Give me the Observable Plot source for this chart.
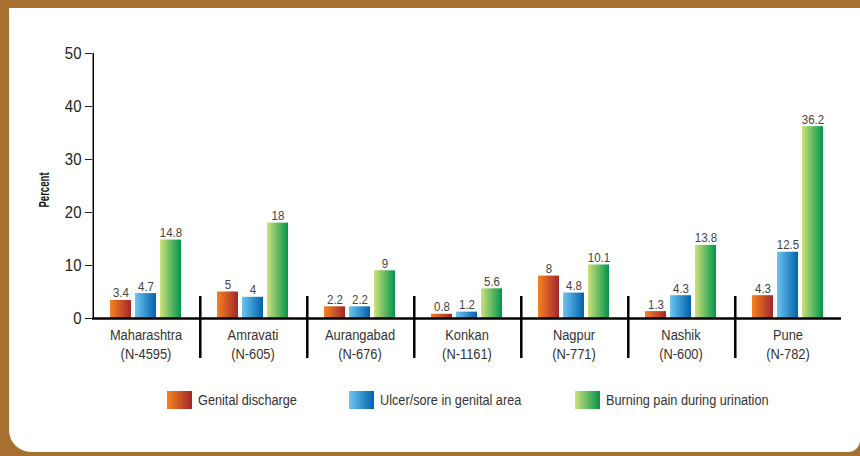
<!DOCTYPE html>
<html>
<head>
<meta charset="utf-8">
<script src="https://cdn.jsdelivr.net/npm/d3@7"></script>
<script src="https://cdn.jsdelivr.net/npm/@observablehq/plot@0.6"></script>
<style>
  html, body { margin: 0; padding: 0; background: #fff; }
  #page { position: relative; width: 860px; height: 456px; background: #a87030; overflow: hidden;
          font-family: "Liberation Sans", Arial, sans-serif; }
  #inner { position: absolute; left: 9px; top: 8px; right: 0; bottom: 4px; background: #fff;
           border-bottom-left-radius: 22px; border-bottom-right-radius: 12px; }
  #chart { position: absolute; left: 0; top: 0; }
  #ylabel { position: absolute; left: 43px; top: 190px; transform: translate(-50%, -50%) rotate(-90deg) scaleX(0.64);
            font-weight: bold; font-size: 15px; color: #111; white-space: nowrap; }
  .item { position: absolute; top: 391px; display: flex; align-items: center; }
  .sw { width: 25px; height: 18px; margin-right: 6px; flex: none; }
  .lab { font-size: 15.5px; color: #333; line-height: 18px; white-space: nowrap;
         transform: scaleX(0.82); transform-origin: left center; }
</style>
</head>
<body>
<div id="page">
  <div id="inner"></div>
  <div id="chart"></div>
  <div id="ylabel">Percent</div>
  <div id="legend"></div>
</div>
<script>
// ---- data ----
const regions = ["Maharashtra", "Amravati", "Aurangabad", "Konkan", "Nagpur", "Nashik", "Pune"];
const sampleSizes = ["N-4595", "N-605", "N-676", "N-1161", "N-771", "N-600", "N-782"];
const series = ["Genital discharge", "Ulcer/sore in genital area", "Burning pain during urination"];
const genitalDischarge = [3.4, 5, 2.2, 0.8, 8, 1.3, 4.3];
const ulcerSore = [4.7, 4, 2.2, 1.2, 4.8, 4.3, 12.5];
const burningPain = [14.8, 18, 9, 5.6, 10.1, 13.8, 36.2];
const yTicks = [0, 10, 20, 30, 40, 50];

// ---- styles ----
const gradients = [
  ["#f58320", "#a3262c"],
  ["#6dc5f0", "#0061ae"],
  ["#cfe07c", "#00964a"]
];
const legendLeft = [167, 349, 575];
const FONT = '"Liberation Sans", Arial, sans-serif';
const TICK_FS = 17, VALUE_FS = 12.5, REGION_FS = 15.5;
const condenseBySize = {[TICK_FS]: 0.88, [VALUE_FS]: 0.92, [REGION_FS]: 0.83};

const seriesValues = [genitalDischarge, ulcerSore, burningPain];
const rows = regions.flatMap((r, i) => series.map((s, j) => ({region: r, series: s, si: j, value: seriesValues[j][i]})));

const W = 860, H = 372, mL = 90, mR = 18, mT = 53, mB = H - 318;
const pInner = 0.154, pOuter = 0.643;
const facetW = (W - mL - mR) / regions.length;
const step = facetW / (series.length - pInner + 2 * pOuter);
const bw = step * (1 - pInner);
const edgeOffset = step * pOuter + bw / 2;

const chart = Plot.plot({
  width: W, height: H,
  marginLeft: mL, marginRight: mR, marginTop: mT, marginBottom: mB,
  style: {background: "transparent", fontFamily: FONT, fontSize: TICK_FS + "px", color: "#222", overflow: "visible"},
  fx: {domain: regions, padding: 0, axis: null},
  x: {domain: series, paddingInner: pInner, paddingOuter: pOuter, axis: null},
  y: {domain: [0, 50], ticks: yTicks, tickSize: 7, tickPadding: 4, label: null},
  color: {type: "identity"},
  marks: [
    Plot.barY(rows, {fx: "region", x: "series", y: "value", fill: d => `url(#grad${d.si})`}),
    Plot.text(rows, {fx: "region", x: "series", y: "value", text: d => String(d.value),
      lineAnchor: "bottom", dy: -3, fontSize: VALUE_FS, fill: "#444"}),
    Plot.ruleY([0], {stroke: "#000", strokeWidth: 2.5}),
    Plot.ruleX(regions.slice(0, 1), {fx: d => d, x: () => series[0], dx: -edgeOffset, stroke: "#000", strokeWidth: 1.5}),
    Plot.ruleX(regions.slice(1), {fx: d => d, x: () => series[0], dx: -edgeOffset,
      insetTop: 243, insetBottom: -40, stroke: "#000", strokeWidth: 2.5}),
    Plot.text(regions, {fx: d => d, frameAnchor: "bottom", lineAnchor: "top", dy: 9,
      text: (d, i) => `${d}\n(${sampleSizes[i]})`, fontSize: REGION_FS, lineHeight: 1.17, fill: "#333"})
  ]
});

// gradient definitions
const defs = d3.select(chart).insert("defs", ":first-child");
gradients.forEach(([a, b], i) => {
  const g = defs.append("linearGradient").attr("id", `grad${i}`).attr("x1", 0).attr("x2", 1).attr("y1", 0).attr("y2", 0);
  g.append("stop").attr("offset", "0%").attr("stop-color", a);
  g.append("stop").attr("offset", "100%").attr("stop-color", b);
});
document.getElementById("chart").appendChild(chart);

// condense chart text (the original uses a condensed typeface)
chart.querySelectorAll("text").forEach(t => {
  const tspans = t.querySelectorAll("tspan");
  const nodes = tspans.length ? Array.from(tspans) : [t];
  nodes.forEach(n => {
    const fs = parseFloat(getComputedStyle(n).fontSize);
    const c = condenseBySize[fs] ?? 0.85;
    const L = n.getComputedTextLength();
    if (L > 0) {
      n.setAttribute("textLength", L * c);
      n.setAttribute("lengthAdjust", "spacingAndGlyphs");
    }
  });
});

// legend
const legend = d3.select("#legend");
series.forEach((s, i) => {
  const it = legend.append("div").attr("class", "item").style("left", legendLeft[i] + "px");
  it.append("div").attr("class", "sw").style("background", `linear-gradient(to right, ${gradients[i][0]}, ${gradients[i][1]})`);
  it.append("div").attr("class", "lab").text(s);
});
</script>
</body>
</html>
